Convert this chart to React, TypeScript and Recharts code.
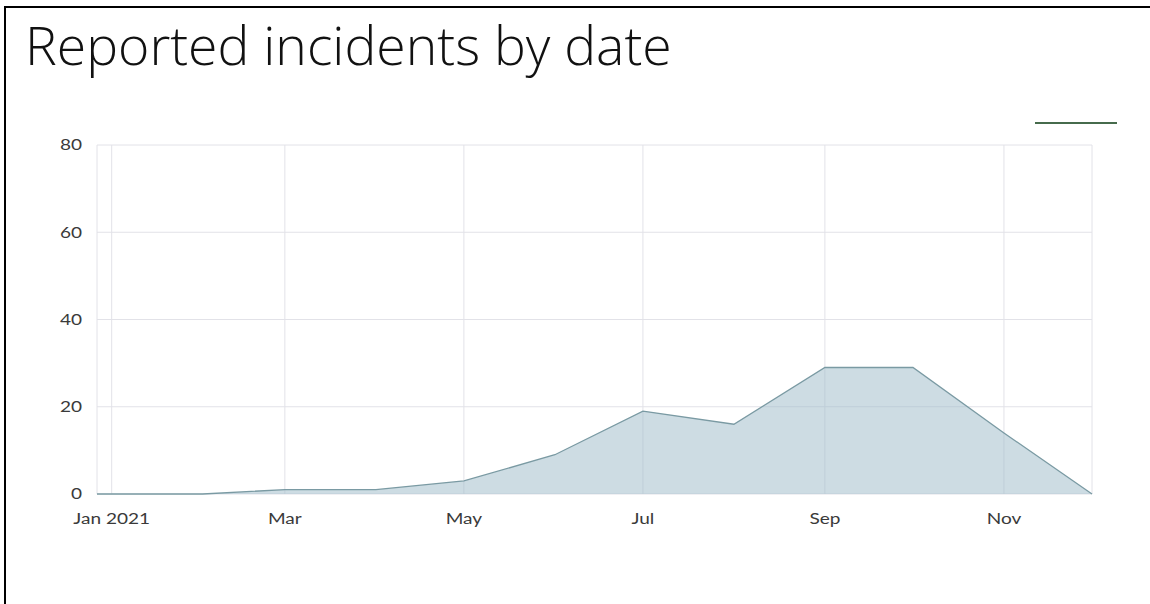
import React from "react";
import { AreaChart, Area, XAxis, YAxis, CartesianGrid } from "recharts";

// monthly incident counts (first point is the tail of Dec 2020)
const dates = [
  "2020-12-27", "2021-01-01", "2021-02-01", "2021-03-01", "2021-04-01",
  "2021-05-01", "2021-06-01", "2021-07-01", "2021-08-01", "2021-09-01",
  "2021-10-01", "2021-11-01", "2021-12-01"
];
const incidents = [0, 0, 0, 1, 1, 3, 9, 19, 16, 29, 29, 14, 0];

const tickDates = ["2021-01-01", "2021-03-01", "2021-05-01", "2021-07-01", "2021-09-01", "2021-11-01"];
const tickLabels = ["Jan 2021", "Mar", "May", "Jul", "Sep", "Nov"];
const yTicks = [0, 20, 40, 60, 80];

const DAY = 86400000;
const origin = Date.UTC(2021, 0, 1);
const toDay = (d: string) => Math.round((Date.parse(d + "T00:00:00Z") - origin) / DAY);

const data = dates.map((d, i) => ({ day: toDay(d), count: incidents[i] }));
const xTicks = tickDates.map(toDay);

// the source screenshot is stretched sideways, so the labels are widened a bit
const StretchTick = (props: any) => {
  const { x, y, payload, axis } = props;
  const isX = axis === "x";
  const label = isX ? tickLabels[xTicks.indexOf(payload.value)] ?? "" : String(payload.value);
  return (
    <g transform={`translate(${x},${y})`}>
      <text
        transform="scale(1.27,1)"
        textAnchor={isX ? "middle" : "end"}
        dy={isX ? "0.71em" : "0.355em"}
        fontFamily="Lato, 'Open Sans', sans-serif"
        fontSize={15}
        fill="#3a3a3a"
      >
        {label}
      </text>
    </g>
  );
};

const App: React.FC = () => {
  return (
    <div style={{ position: "absolute", left: 0, top: 0, width: 1150, height: 604, background: "#fff", overflow: "hidden" }}>
      <div
        style={{
          position: "absolute",
          left: 4,
          top: 6,
          width: 1160,
          height: 620,
          borderLeft: "2px solid #000",
          borderTop: "2px solid #000"
        }}
      />
      <div
        style={{
          position: "absolute",
          left: 25,
          top: 18,
          fontFamily: "'Open Sans', sans-serif",
          fontWeight: 300,
          fontSize: 53.5,
          lineHeight: 1,
          color: "#111",
          whiteSpace: "nowrap"
        }}
      >
        Reported incidents by date
      </div>
      <svg style={{ position: "absolute", left: 0, top: 0 }} width={1150} height={604}>
        <line x1={1035} y1={123} x2={1117} y2={123} stroke="#466b4c" strokeWidth={2} />
      </svg>
      <div style={{ position: "absolute", left: 0, top: 0 }}>
        <AreaChart width={1150} height={604} data={data} margin={{ top: 145, right: 58, bottom: 80, left: 0 }}>
          <CartesianGrid stroke="#e2e2e8" strokeWidth={1} />
          <XAxis
            dataKey="day"
            type="number"
            domain={["dataMin", "dataMax"]}
            ticks={xTicks}
            axisLine={false}
            tickLine={false}
            tickMargin={13}
            tick={<StretchTick axis="x" />}
            interval={0}
          />
          <YAxis
            width={97}
            domain={[0, 80]}
            ticks={yTicks}
            axisLine={false}
            tickLine={false}
            tickMargin={9}
            tick={<StretchTick axis="y" />}
          />
          <Area
            type="linear"
            dataKey="count"
            stroke="#7a9aa3"
            strokeWidth={1.3}
            fill="#9bbac7"
            fillOpacity={0.5}
            isAnimationActive={false}
          />
        </AreaChart>
      </div>
    </div>
  );
};

export default App;
